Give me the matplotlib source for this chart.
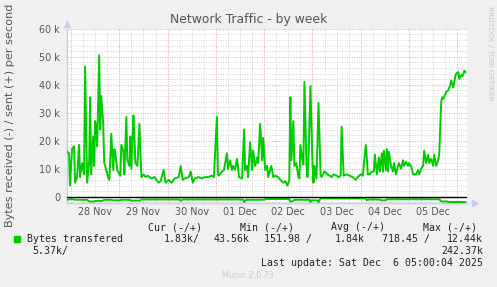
import matplotlib
matplotlib.use("Agg")
import matplotlib.pyplot as plt
import matplotlib.dates as mdates
import pandas as pd
import numpy as np

# hours after 28 Nov 2025 00:00, values in k bytes/s
sent_hours = [-2, -1, -0.5, 0.5, 1.5, 2, 3, 4, 4.5, 5.5, 6.5, 7, 8, 9, 9.5, 10, 11, 11.5, 12, 12.5,
              13, 14, 14.5, 15, 16, 16.5, 17, 18, 19, 19.5, 20, 21, 21.5, 22, 23, 24, 24.5, 25, 26, 26.5,
              27.5, 28, 29, 29.5, 30, 31, 31.5, 32, 33, 34, 34.5, 35, 36, 37, 38, 39, 40, 41.5, 42.5, 43.5,
              44.5, 46, 47,
              48.5, 50, 51.5, 53.5, 54.5, 55.5, 56.5, 58.5, 59.5, 60.5, 61.5, 63.5, 65, 66.5, 68, 70, 71,
              72.5, 73, 73.5, 75, 76, 77.5, 78, 79, 80, 80.5, 81.5, 82.5, 83.5, 85, 86, 86.5, 87.5, 88, 89,
              90, 90.5, 91.5, 92.5, 93, 94, 95, 95.5, 96.5, 97.5,
              98, 99.5, 100.5, 101.5, 103, 104, 105.5, 106.5, 107.5, 108.5, 109, 109.5, 110.5, 111, 112,
              113, 113.5, 114, 115, 115.5, 116, 117, 117.5, 118, 119, 120, 120.5, 121, 122, 123, 124,
              124.5, 126, 127.5, 128.5, 129.5, 130.5, 132, 133, 134, 134.5, 135.5, 137, 138.5, 140, 141.5,
              142.5, 144, 145, 146.5, 147, 147.5, 148.5, 149.5,
              150.5, 151, 152, 153, 153.5, 154.5, 155, 155.5, 156.5, 157, 157.5, 158, 159, 160, 160.5,
              161.5, 162.5, 163, 164, 165, 165.5, 166.5, 167.5, 168, 169, 170, 170.5, 171.5, 172.5, 173,
              174, 175, 175.5, 176.5, 177.5, 178, 179, 180, 180.5, 181.5, 182.5, 183, 184, 184.5, 185,
              186, 186.5, 187.5, 188.5, 189, 190, 191, 191.5, 192.5, 193, 194, 194.5, 195.5, 196]
sent_k = [16, 15.5, 4, 17, 18, 5, 7, 18.5, 7, 12, 8, 46.5, 5, 12, 35.5, 8, 21.5, 11, 27, 24,
          18, 50.5, 24, 36, 26, 12, 11, 8, 6, 13, 22.5, 9.5, 17, 15.5, 9.5, 8, 7.5, 18.5, 16.5, 8,
          28.5, 13, 11, 21.5, 10, 29, 21.5, 12, 11, 26, 15.5, 7, 8, 7, 7.5, 7, 6.5, 7, 6, 5,
          5.5, 9.5, 5,
          6, 5, 6.5, 7, 11, 6, 6.5, 7, 9, 5, 6.5, 7, 6.5, 7, 7, 7.5, 7,
          28.5, 8, 7.5, 9, 9.5, 15.5, 10, 13, 9.5, 11, 9.5, 13.5, 7, 6.5, 24, 9.5, 11, 7, 19.5,
          9.5, 16.5, 11, 14, 12, 26, 13, 21, 9.5, 11,
          7, 11, 7, 7.5, 7, 6, 5, 5.5, 4, 6, 35.5, 13, 27, 11, 12,
          7, 6.5, 18.5, 13, 11.5, 41, 12, 7, 13, 39.5, 12, 5, 11, 6.5, 33.5, 8,
          7, 9, 8, 7.5, 7, 8, 7.5, 7, 7.5, 25, 7.5, 8, 7.5, 7, 6,
          7, 8, 7.5, 18.5, 14, 8, 8, 9,
          9, 15, 8, 14, 9, 15.5, 9, 16.5, 9.5, 17, 9, 16, 11, 9, 12,
          8, 11, 12, 10, 13, 11, 12.5, 11, 12, 11, 8, 8, 8, 9.5, 8,
          10, 11, 16.5, 12, 15, 12, 13.5, 11, 15, 11, 13, 15.5, 34, 35.5, 35,
          36.5, 37.5, 38, 40, 41.5, 39, 43, 44, 44.5, 42, 43.5, 43, 45, 44.5]

recv_hours = [-2, 0.5, 2, 8, 9, 11.5, 12.5, 15.5, 16.5, 20, 21, 24, 25, 29, 30, 34, 35, 54, 54.5, 55.5,
              85.5, 86, 87, 96, 97, 108.5, 109, 110, 111, 118.5, 119, 119.5, 122.5, 123, 124, 146.5,
              147, 148, 153.5, 154, 156.5, 157, 183, 184, 187, 188, 196]
recv_k = [1.1, 0.8, 1.1, 1.1, 1.7, 1.7, 1.5, 1.5, 1.1, 1.1, 1.3, 1.3, 1.1, 1.1, 1.4, 1.4, 1.0, 1.0, 1.5, 1.0,
          1.0, 1.9, 1.1, 1.1, 0.8, 0.8, 1.7, 1.7, 1.1, 1.1, 1.9, 1.3, 1.3, 2.0, 0.6, 0.6,
          1.3, 1.0, 1.0, 1.3, 1.3, 0.9, 0.9, 1.7, 1.7, 1.9, 1.9]

W, H = 497, 287
base = pd.Timestamp("2025-11-28 00:00")


def t(h):
    return base + pd.to_timedelta(np.asarray(h, dtype=float), unit="h")


fig = plt.figure(figsize=(W / 100, H / 100), dpi=100, facecolor="#f0f0f0")
ax = fig.add_axes([67 / W, 1 - 202.7 / H, 400 / W, 174 / H])
ax.set_facecolor("white")

x0, x1 = t(-2.0), t(196.8)
ax.set_xlim(x0, x1)
ax.set_ylim(-2140, 60000)

# grid
for h in np.arange(0, 197, 6):
    c = "#eaa0a0" if h % 24 == 0 else "#d4d4d4"
    ax.axvline(t(h), color=c, lw=0.7, ls=(0, (1, 1.5)), zorder=1)
for v in range(-2000, 60001, 2000):
    if v == 0:
        continue
    c = "#eaa0a0" if v % 10000 == 0 else "#d4d4d4"
    ax.axhline(v, color=c, lw=0.7, ls=(0, (1, 1.5)), zorder=1)

green = "#00cc00"
ax.plot(t(sent_hours), np.array(sent_k) * 1000, color=green, lw=1.4, zorder=3)
ax.plot(t(recv_hours), -np.array(recv_k) * 1000, color=green, lw=1.4, zorder=3)
ax.axhline(0, color="black", lw=1, zorder=4)

# axes look
for s in ["top", "right"]:
    ax.spines[s].set_visible(False)
for s in ["left", "bottom"]:
    ax.spines[s].set_color("#c8cdf0")
    ax.spines[s].set_linewidth(1)
ax.plot([0], [1.025], marker="^", color="#c8cdf0", ms=5, transform=ax.transAxes, clip_on=False)
ax.plot([1.02], [0], marker=">", color="#c8cdf0", ms=5, transform=ax.transAxes, clip_on=False)

ax.set_yticks(range(0, 60001, 10000))
ax.set_yticklabels(["0"] + [f"{v // 1000} k" for v in range(10000, 60001, 10000)])
ax.set_xticks(t(np.arange(12, 196, 24)))
ax.xaxis.set_major_formatter(mdates.DateFormatter("%d %b"))
ax.tick_params(axis="both", colors="#555555", labelsize=6.9, length=2, width=0.6)
ax.tick_params(axis="x", pad=3, length=0)
ax.tick_params(axis="y", pad=3, color="#dddddd")

fig.text(249 / W, 1 - 19 / H, "Network Traffic - by week", ha="center", va="center",
         fontsize=8.9, color="#555555")
fig.text(10 / W, 1 - 115 / H, "Bytes received (-) / sent (+) per second", rotation=90,
         ha="center", va="center", fontsize=8.1, color="#555555")
fig.text(490 / W, 1 - 53 / H, "RRDTOOL / TOBI OETIKER", rotation=270, ha="center", va="center",
         fontsize=5.3, color="#c8c8c8")

# legend block
mono = dict(family="DejaVu Sans Mono", fontsize=7.1, color="#222222", va="center")
fig.text(148 / W, 1 - 227 / H, "Cur (-/+)", ha="left", **mono)
fig.text(240 / W, 1 - 227 / H, "Min (-/+)", ha="left", **mono)
fig.text(331 / W, 1 - 227 / H, "Avg (-/+)", ha="left", **mono)
fig.text(423 / W, 1 - 227 / H, "Max (-/+)", ha="left", **mono)
fig.patches.append(plt.Rectangle((14 / W, 1 - 242 / H), 6 / W, 6 / H, color=green,
                                 transform=fig.transFigure, figure=fig))
fig.text(27 / W, 1 - 239 / H, "Bytes transfered", ha="left", **mono)
fig.text(200 / W, 1 - 239 / H, "1.83k/", ha="right", **mono)
fig.text(250 / W, 1 - 239 / H, "43.56k", ha="right", **mono)
fig.text(312 / W, 1 - 239 / H, "151.98 /", ha="right", **mono)
fig.text(365 / W, 1 - 239 / H, "1.84k", ha="right", **mono)
fig.text(430 / W, 1 - 239 / H, "718.45 /", ha="right", **mono)
fig.text(483 / W, 1 - 239 / H, "12.44k", ha="right", **mono)
fig.text(32 / W, 1 - 251 / H, "5.37k/", ha="left", **mono)
fig.text(483 / W, 1 - 251 / H, "242.37k", ha="right", **mono)
fig.text(483 / W, 1 - 263 / H, "Last update: Sat Dec  6 05:00:04 2025", ha="right", **mono)
fig.text(248 / W, 1 - 276 / H, "Munin 2.0.73", ha="center", va="center", fontsize=5.8,
         color="#cccccc")

fig.savefig("out.png", dpi=100, facecolor=fig.get_facecolor())
